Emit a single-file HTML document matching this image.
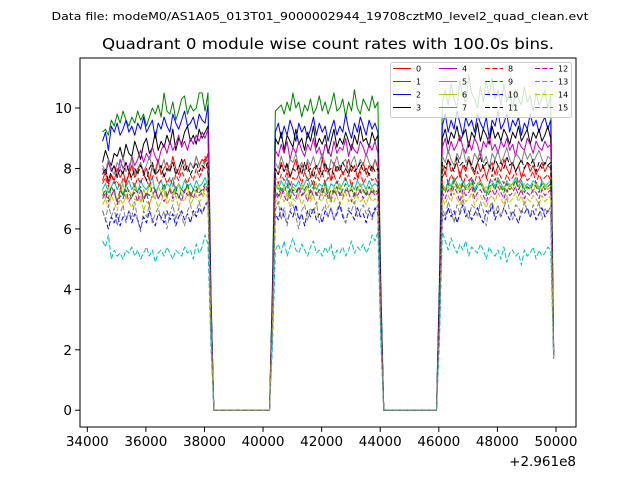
<!DOCTYPE html>
<html><head><meta charset="utf-8"><style>
html,body{margin:0;padding:0;background:#fff;}
svg{display:block;font-family:"DejaVu Sans","Liberation Sans",sans-serif;}
</style></head><body>
<svg id="chart" width="640" height="480" viewBox="0 0 640 480" xmlns="http://www.w3.org/2000/svg">
<rect width="640" height="480" fill="#fff"/>
<text x="320" y="20" font-size="11" text-anchor="middle" textLength="537" lengthAdjust="spacingAndGlyphs">Data file: modeM0/AS1A05_013T01_9000002944_19708cztM0_level2_quad_clean.evt</text>
<text x="328" y="49" font-size="15" text-anchor="middle" textLength="452" lengthAdjust="spacingAndGlyphs">Quadrant 0 module wise count rates with 100.0s bins.</text>
<g id="plot"></g>
<g id="axes"></g>
<g id="legend"></g>
</svg>
<script>
const t0 = 34520, dt = 100;
const offsetLabel = "+2.961e8";
const xTicks = [34000,36000,38000,40000,42000,44000,46000,48000,50000];
const yTicks = [0,2,4,6,8,10];
const seriesNames = ["0","1","2","3","4","5","6","7","8","9","10","11","12","13","14","15"];
const Z20=[0,0,0,0,0,0,0,0,0,0,0,0,0,0,0,0,0,0,0,0];
const Z19=[0,0,0,0,0,0,0,0,0,0,0,0,0,0,0,0,0,0,0];
const s0=[7.6,7.9,7.5,7.8,7.6,8.0,7.7,7.9,7.5,7.8,8.1,7.7,7.9,8.2,7.8,8.0,7.6,8.1,7.9,8.3,7.8,8.0,8.2,7.9,8.4,8.0,7.8,8.1,8.3,7.9,8.2,8.0,8.4,8.1,8.3,8.2,8.5,3.2,...Z20,3.3,8.0,7.8,8.2,7.9,8.1,7.7,8.0,8.3,7.8,8.1,7.9,8.2,7.7,8.0,8.1,7.8,8.3,7.9,8.0,7.6,8.2,7.9,8.1,7.8,8.0,8.3,7.9,8.1,7.7,8.0,8.2,7.8,8.1,7.9,8.3,8.0,3.2,...Z19,3.3,8.1,7.8,8.3,7.9,8.0,8.2,7.7,8.1,7.9,8.3,8.0,7.8,8.2,7.9,8.1,7.7,8.0,8.2,7.8,8.1,7.9,8.3,8.0,7.8,8.2,7.9,8.1,7.7,8.0,8.2,7.9,8.1,7.8,8.0,8.2,7.9,8.1,8.0,1.8];
const s1=[9.2,9.3,9.1,9.6,9.4,9.8,9.5,9.9,9.6,9.4,9.7,9.5,9.9,9.6,9.8,9.4,9.7,10.0,9.8,10.1,9.7,10.5,9.9,9.8,10.2,9.6,9.9,10.3,10.4,9.8,10.1,9.9,10.0,10.5,10.5,9.9,10.5,4.0,...Z20,4.2,9.9,10.0,10.1,9.8,10.2,9.9,10.5,10.0,10.2,9.7,10.1,9.9,10.3,9.8,10.0,10.4,9.9,10.2,9.8,10.1,10.5,9.9,10.0,10.3,9.7,10.2,9.9,10.6,10.0,9.8,10.3,10.1,9.9,10.4,10.0,10.2,4.2,...Z19,4.3,10.2,10.6,10.1,10.8,10.3,10.0,10.9,10.4,10.2,11.1,10.5,10.3,10.0,10.7,10.2,10.9,10.4,11.0,10.3,10.6,10.1,10.8,10.2,10.5,10.0,10.6,10.3,10.1,10.7,10.2,10.4,9.9,10.5,10.1,10.3,10.6,10.0,10.4,2.1];
const s2=[8.9,9.2,8.6,9.4,9.2,9.5,9.1,9.3,9.6,9.2,9.4,9.1,9.5,9.3,9.7,9.2,9.4,9.6,9.0,9.5,9.3,9.7,9.4,9.2,9.8,9.5,9.3,9.6,9.9,9.4,9.5,9.7,9.3,9.8,9.6,9.5,10.1,3.8,...Z20,3.9,9.2,9.5,9.0,9.4,9.1,9.6,9.3,8.9,9.5,9.2,9.4,9.0,9.3,9.7,9.1,9.5,9.2,9.4,8.9,9.3,9.6,9.1,9.4,9.2,9.8,9.3,9.0,9.5,9.2,9.7,9.4,9.1,9.6,9.3,9.5,9.2,3.9,...Z19,4.0,9.4,9.8,9.2,9.6,9.3,9.9,9.5,9.1,9.7,9.4,9.6,9.2,9.8,9.5,9.3,9.7,9.0,9.6,9.4,9.9,9.3,9.5,9.8,9.2,9.6,9.4,9.7,9.1,9.5,9.3,9.8,9.4,9.6,9.2,9.5,9.7,9.3,9.6,2.0];
const s3=[8.2,8.6,8.3,8.1,8.5,8.4,8.7,8.3,8.8,8.5,8.4,8.9,8.6,8.3,8.8,9.0,8.5,8.7,9.2,8.6,8.9,8.7,9.1,8.8,9.3,8.6,9.0,8.8,9.2,9.4,8.9,9.1,8.8,9.3,9.0,9.2,9.4,3.6,...Z20,3.7,9.0,8.8,9.2,8.6,9.1,8.9,8.7,9.3,8.8,9.0,8.6,9.2,8.9,9.4,8.7,9.0,8.8,9.1,8.5,8.9,9.3,8.7,9.0,8.8,9.2,8.9,8.6,9.1,8.8,9.4,8.9,9.0,8.7,9.2,8.9,9.1,3.7,...Z19,3.8,9.0,9.3,8.8,9.2,9.0,9.4,8.9,9.1,9.3,8.7,9.2,9.0,9.5,8.9,9.3,9.1,8.8,9.4,9.0,9.2,8.9,9.3,9.1,8.8,9.2,9.0,9.4,8.9,9.1,9.3,8.8,9.2,9.0,9.3,8.9,9.1,9.4,9.0,1.9];
const s4=[8.0,7.8,8.2,7.9,8.1,7.7,8.3,8.0,8.2,7.9,8.4,8.1,8.3,8.6,8.2,8.5,8.3,8.7,8.4,8.2,8.6,8.8,8.5,8.9,8.6,8.8,9.1,8.7,8.9,8.6,9.0,8.8,9.1,8.9,9.2,9.0,9.3,3.5,...Z20,3.5,8.6,8.4,8.8,8.5,8.9,8.3,8.7,8.5,8.9,8.6,8.4,8.8,8.6,9.0,8.5,8.7,8.3,8.8,8.6,8.4,8.9,8.5,8.7,8.6,9.0,8.4,8.8,8.6,8.5,8.9,8.7,8.4,8.8,8.6,8.9,8.5,3.5,...Z19,3.6,8.7,9.0,8.5,8.9,8.6,8.8,9.1,8.7,8.5,8.9,8.6,9.0,8.8,8.4,8.9,8.7,9.1,8.6,8.8,8.5,8.9,8.7,9.0,8.6,8.8,8.4,8.9,8.7,8.6,9.0,8.8,8.5,8.9,8.7,8.6,8.9,8.7,8.8,1.9];
const s5=[7.3,7.5,7.2,7.4,7.6,7.3,7.5,7.1,7.4,7.6,7.3,7.5,7.2,7.6,7.4,7.3,7.5,7.7,7.2,7.4,7.6,7.3,7.5,7.4,7.7,7.2,7.5,7.3,7.6,7.4,7.5,7.3,7.6,7.4,7.5,7.7,7.4,3.0,...Z20,3.0,7.5,7.3,7.6,7.4,7.7,7.2,7.5,7.4,7.6,7.3,7.5,7.7,7.4,7.6,7.3,7.5,7.4,7.6,7.2,7.5,7.4,7.6,7.3,7.5,7.7,7.4,7.5,7.3,7.6,7.4,7.5,7.3,7.6,7.4,7.5,7.4,3.0,...Z19,3.0,7.5,7.3,7.6,7.4,7.7,7.5,7.3,7.6,7.4,7.5,7.7,7.3,7.5,7.6,7.4,7.2,7.5,7.6,7.4,7.7,7.5,7.3,7.6,7.4,7.5,7.7,7.4,7.6,7.3,7.5,7.4,7.6,7.5,7.3,7.6,7.4,7.5,7.6,1.8];
const s6=[7.3,7.0,7.4,7.1,7.3,6.9,7.2,7.5,7.0,7.3,7.1,7.4,7.2,6.9,7.3,7.1,7.5,7.2,7.0,7.4,7.2,7.3,7.0,7.4,7.1,7.3,7.5,7.1,7.2,7.4,7.0,7.3,7.2,7.4,7.1,7.3,7.4,2.9,...Z20,2.9,7.3,7.5,7.1,7.4,7.2,7.0,7.4,7.3,7.1,7.5,7.2,7.4,7.0,7.3,7.5,7.2,7.1,7.4,7.3,7.0,7.4,7.2,7.5,7.1,7.3,7.2,7.4,7.0,7.3,7.5,7.2,7.3,7.1,7.4,7.2,7.3,2.9,...Z19,3.0,7.5,7.3,7.4,7.2,7.6,7.3,7.5,7.1,7.4,7.3,7.5,7.2,7.4,7.6,7.3,7.4,7.2,7.5,7.3,7.6,7.3,7.4,7.2,7.5,7.3,7.6,7.4,7.2,7.5,7.3,7.4,7.2,7.5,7.4,7.3,7.5,7.3,7.4,1.8];
const s7=[8.1,7.9,8.3,8.0,7.8,8.2,8.0,8.4,7.9,8.1,8.3,7.8,8.0,8.2,7.9,8.1,8.4,8.0,7.8,8.2,8.0,8.3,7.9,8.1,8.2,7.8,8.0,8.3,8.1,7.9,8.2,8.0,8.4,8.1,7.9,8.2,8.3,3.3,...Z20,3.3,8.2,8.0,8.4,8.1,7.9,8.3,8.2,8.5,8.0,8.2,7.9,8.3,8.1,8.4,8.0,8.2,8.5,8.1,7.8,8.3,8.1,8.4,8.0,8.2,8.3,7.9,8.2,8.4,8.0,8.3,8.1,8.5,8.2,8.0,8.3,8.1,3.3,...Z19,3.4,8.4,8.2,8.6,8.3,8.1,8.5,8.3,8.7,8.2,8.4,8.1,8.5,8.3,8.6,8.2,8.4,8.0,8.5,8.3,8.6,8.2,8.4,8.7,8.3,8.1,8.5,8.4,8.2,8.6,8.3,8.5,8.2,8.4,8.6,8.3,8.1,8.4,8.3,1.9];
const s8=[7.5,7.7,7.4,7.8,7.5,7.6,7.3,7.7,7.5,7.9,7.6,7.4,7.7,7.5,7.8,7.6,7.4,7.7,7.9,7.5,7.6,7.8,7.5,7.7,7.4,7.8,7.6,7.9,7.7,7.5,7.8,7.6,8.0,7.7,7.9,8.4,7.8,3.1,...Z20,3.1,7.7,7.5,7.8,7.6,7.9,7.4,7.7,7.6,7.8,7.5,7.9,7.6,7.7,7.4,7.8,7.6,7.9,7.5,7.7,7.6,7.8,7.5,7.7,7.9,7.6,7.8,7.4,7.7,7.6,7.9,7.5,7.7,7.8,7.6,7.7,7.5,3.1,...Z19,3.1,7.7,7.9,7.5,7.8,7.6,7.7,7.9,7.4,7.8,7.6,7.7,7.5,7.9,7.6,7.8,7.7,7.5,7.8,7.6,7.9,7.7,7.5,7.8,7.6,7.7,7.9,7.5,7.7,7.8,7.6,7.7,7.9,7.5,7.8,7.6,7.7,7.8,7.6,1.8];
const s9=[7.1,7.3,7.0,7.4,7.2,6.9,7.3,7.1,7.5,7.2,7.0,7.3,7.2,7.4,6.9,7.2,7.1,7.4,7.3,7.0,7.2,7.5,7.1,7.3,7.2,7.4,7.0,7.3,7.2,7.5,7.1,7.3,7.4,7.2,7.3,7.5,7.3,2.9,...Z20,2.9,7.3,7.1,7.4,7.2,7.5,7.0,7.3,7.2,7.4,7.1,7.3,7.5,7.2,7.4,7.1,7.3,7.2,7.5,7.0,7.3,7.2,7.4,7.1,7.3,7.5,7.2,7.3,7.1,7.4,7.2,7.3,7.1,7.4,7.2,7.3,7.2,2.9,...Z19,3.0,7.4,7.2,7.5,7.3,7.6,7.4,7.2,7.5,7.3,7.4,7.6,7.2,7.4,7.5,7.3,7.1,7.4,7.5,7.3,7.6,7.4,7.2,7.5,7.3,7.4,7.6,7.3,7.5,7.2,7.4,7.3,7.5,7.4,7.2,7.5,7.3,7.4,7.5,1.8];
const s10=[6.6,6.3,6.0,6.4,6.2,6.5,6.1,6.4,6.3,6.6,6.2,6.5,6.3,6.0,6.4,6.2,6.6,6.3,6.1,6.5,6.4,6.2,6.6,6.3,6.5,6.1,6.4,6.6,6.3,6.5,6.2,6.6,6.4,6.7,6.5,6.8,6.9,2.6,...Z20,2.6,6.5,6.3,6.7,6.4,6.2,6.6,6.4,6.8,6.3,6.5,6.1,6.6,6.4,6.7,6.3,6.5,6.2,6.6,6.4,6.7,6.3,6.5,6.8,6.4,6.2,6.6,6.5,6.3,6.7,6.4,6.5,6.2,6.6,6.4,6.7,6.5,2.6,...Z19,2.6,6.5,6.3,6.7,6.4,6.6,6.2,6.5,6.8,6.4,6.6,6.3,6.5,6.7,6.4,6.2,6.6,6.5,6.8,6.3,6.6,6.4,6.7,6.5,6.3,6.6,6.4,6.2,6.6,6.5,6.7,6.4,6.6,6.3,6.5,6.7,6.4,6.6,6.5,1.7];
const s11=[7.8,8.0,7.6,7.9,8.1,7.7,8.0,7.8,8.2,7.9,7.7,8.0,7.8,8.1,7.9,7.6,8.0,8.2,7.8,7.9,8.1,7.7,8.0,7.9,8.2,7.8,8.0,8.3,7.9,8.1,7.8,8.0,8.2,7.9,8.1,8.0,8.2,3.2,...Z20,3.2,8.0,7.8,8.1,7.9,8.2,7.7,8.0,7.9,8.1,7.8,8.2,7.9,8.0,7.7,8.1,8.0,7.8,8.2,7.9,8.0,7.8,8.1,7.9,8.2,8.0,7.8,8.1,7.9,8.0,8.2,7.9,8.0,7.8,8.1,7.9,8.0,3.2,...Z19,3.3,8.2,8.0,8.3,8.1,7.9,8.4,8.1,8.2,8.0,8.3,8.1,7.9,8.2,8.4,8.0,8.2,8.1,7.9,8.3,8.1,8.2,8.0,8.4,8.1,8.2,7.9,8.1,8.3,8.0,8.2,8.1,8.3,7.9,8.2,8.0,8.2,8.1,8.2,1.9];
const s12=[7.0,7.2,6.9,7.1,7.3,6.8,7.1,7.0,7.3,6.9,7.1,7.2,6.9,7.3,7.0,7.2,6.8,7.1,7.3,7.0,7.2,6.9,7.1,7.3,7.0,7.2,7.1,6.9,7.3,7.1,7.2,7.0,7.3,7.1,7.2,7.4,7.2,2.9,...Z20,2.9,7.2,7.0,7.3,7.1,6.9,7.3,7.2,7.0,7.4,7.1,7.2,6.9,7.3,7.1,7.2,7.0,7.4,7.1,7.2,6.9,7.3,7.1,7.2,7.0,7.3,7.2,6.9,7.2,7.1,7.3,7.0,7.2,7.1,7.3,7.1,7.2,2.9,...Z19,2.9,7.2,7.0,7.3,7.1,7.4,7.2,6.9,7.3,7.1,7.2,7.4,7.0,7.2,7.3,7.1,6.9,7.2,7.3,7.1,7.4,7.2,7.0,7.3,7.1,7.2,7.4,7.1,7.3,7.0,7.2,7.1,7.3,7.2,7.0,7.3,7.1,7.2,7.3,1.8];
const s13=[5.6,5.4,5.8,5.0,5.3,5.1,5.2,5.0,5.3,5.2,5.4,5.1,5.3,5.0,5.2,5.4,5.1,5.3,4.9,5.2,5.3,5.1,5.4,5.2,5.0,5.3,5.2,5.1,5.4,5.2,5.3,5.0,5.5,5.2,5.4,5.8,5.5,2.1,...Z20,2.1,5.3,5.5,5.2,5.6,5.1,5.4,5.7,5.3,5.2,5.5,5.3,5.1,5.4,5.6,5.2,5.3,5.1,5.4,5.2,5.5,5.0,5.3,5.2,5.4,5.1,5.3,5.6,5.2,5.4,5.3,5.5,5.2,5.4,5.8,5.6,5.9,2.2,...Z19,2.2,5.9,5.6,5.3,5.7,5.4,5.2,5.5,5.3,5.6,5.1,5.4,5.3,5.2,5.5,5.3,5.0,5.4,5.2,5.1,5.3,5.0,5.4,4.9,5.2,5.3,5.1,5.2,4.8,5.3,5.1,5.2,5.4,5.0,5.3,5.1,5.2,5.4,5.3,1.7];
const s14=[6.8,7.0,6.7,7.1,6.9,6.6,7.0,6.8,7.1,6.9,6.7,7.0,6.9,7.1,6.6,6.9,6.8,7.1,7.0,6.7,6.9,7.2,6.8,7.0,6.9,7.1,6.7,7.0,6.9,7.2,6.8,7.0,7.1,6.9,7.0,7.2,7.0,2.8,...Z20,2.8,7.0,6.8,7.1,6.9,7.2,6.7,7.0,6.9,7.1,6.8,7.0,7.2,6.9,7.1,6.8,7.0,6.9,7.2,6.7,7.0,6.9,7.1,6.8,7.0,7.2,6.9,7.0,6.8,7.1,6.9,7.0,6.8,7.1,6.9,7.0,6.9,2.8,...Z19,2.8,7.0,6.8,7.1,6.9,7.2,7.0,6.8,7.1,6.9,7.0,7.2,6.8,7.0,7.1,6.9,6.7,7.0,7.1,6.9,7.2,7.0,6.8,7.1,6.9,7.0,7.2,6.9,7.1,6.8,7.0,6.9,7.1,7.0,6.8,7.1,6.9,7.0,7.1,1.7];
const s15=[6.6,6.3,6.8,6.4,6.7,6.1,6.5,6.8,6.2,6.6,6.4,6.9,6.3,5.9,6.6,6.4,6.8,6.2,6.5,6.7,6.3,6.6,6.0,6.5,6.8,6.3,6.7,6.4,6.1,6.6,6.8,6.4,6.6,6.9,6.5,6.7,6.9,2.6,...Z20,2.6,6.6,6.9,6.3,6.7,6.1,6.6,6.8,6.4,6.0,6.6,6.8,6.3,6.7,6.5,6.9,6.2,6.6,6.8,6.4,6.7,6.3,6.6,6.9,6.5,6.2,6.7,6.6,6.9,6.4,6.6,6.8,6.5,6.7,6.3,6.6,6.8,2.6,...Z19,2.7,6.7,6.4,6.9,6.6,6.2,6.8,6.5,7.0,6.6,6.3,6.8,6.7,6.4,6.9,6.6,6.1,6.7,6.9,6.5,6.8,6.4,6.7,7.0,6.6,6.3,6.8,6.7,6.5,6.9,6.6,6.4,6.8,6.6,6.9,6.3,6.7,6.5,6.8,1.7];
const seriesValues=[s0,s1,s2,s3,s4,s5,s6,s7,s8,s9,s10,s11,s12,s13,s14,s15];
const colors=["#ff0000","#008000","#0000ff","#000000","#bf00bf","#00bfbf","#bfbf00","#808080"];

const NS="http://www.w3.org/2000/svg";
const AX={l:80,r:576,t:58,b:427};
const xMin=33751,xMax=50683,yMin=-0.555,yMax=11.655;
function xs(v){return AX.l+(v-xMin)/(xMax-xMin)*(AX.r-AX.l);}
function ys(v){return AX.b-(v-yMin)/(yMax-yMin)*(AX.b-AX.t);}
function mk(tag,attrs,parent){const e=document.createElementNS(NS,tag);for(const k in attrs)e.setAttribute(k,attrs[k]);parent.appendChild(e);return e;}

const plot=document.getElementById('plot');
const clip=mk('clipPath',{id:'clipA'},plot);
mk('rect',{x:AX.l,y:AX.t,width:AX.r-AX.l,height:AX.b-AX.t},clip);
const g=mk('g',{'clip-path':'url(#clipA)'},plot);
seriesValues.forEach((vals,si)=>{
  const pts=vals.map((v,i)=>xs(t0+i*dt).toFixed(2)+','+ys(v).toFixed(2)).join(' ');
  const attrs={points:pts,fill:'none',stroke:colors[si%8],'stroke-width':1,'stroke-linejoin':'round'};
  if(si>=8)attrs['stroke-dasharray']='5.1,2.2';
  const pl=mk('polyline',attrs,g);
  
  
});

const axes=document.getElementById('axes');
const frame=mk('rect',{x:AX.l,y:AX.t,width:AX.r-AX.l,height:AX.b-AX.t,fill:'none',stroke:'#000','stroke-width':1},axes);


xTicks.forEach(v=>{
  const x=xs(v);
  mk('line',{x1:x,x2:x,y1:AX.b,y2:AX.b+4.9,stroke:'#000','stroke-width':1},axes);
  const t=mk('text',{x:x,y:AX.b+19,'font-size':13.5,'text-anchor':'middle'},axes);
  t.textContent=String(v);
  
  
});
yTicks.forEach(v=>{
  const y=ys(v);
  mk('line',{x1:AX.l-4.9,x2:AX.l,y1:y,y2:y,stroke:'#000','stroke-width':1},axes);
  const t=mk('text',{x:AX.l-8,y:y+5,'font-size':13.5,'text-anchor':'end'},axes);
  t.textContent=String(v);
  
  
});
const off=mk('text',{x:AX.r,y:466,'font-size':13.5,'text-anchor':'end'},axes);
off.textContent=offsetLabel;



const leg=document.getElementById('legend');
const lf=mk('rect',{x:390.5,y:62.5,width:181,height:55,rx:2,fill:'#fff','fill-opacity':0.8,stroke:'#cccccc','stroke-width':1},leg);


const colX=[393,439,485,535], rowY=[68.5,81.5,94.5,107.5];
seriesNames.forEach((n,si)=>{
  const c=Math.floor(si/4), r=si%4;
  const x=colX[c], y=rowY[r];
  const la={x1:x,x2:x+18,y1:y,y2:y,stroke:colors[si%8],'stroke-width':1};
  if(si>=8)la['stroke-dasharray']='5.1,2.2';
  const ge=mk('g',{},leg);
  
  
  mk('line',la,ge);
  const t=mk('text',{x:x+23,y:y+3,'font-size':8},ge);
  t.textContent=n;
});
</script>
</body></html>
